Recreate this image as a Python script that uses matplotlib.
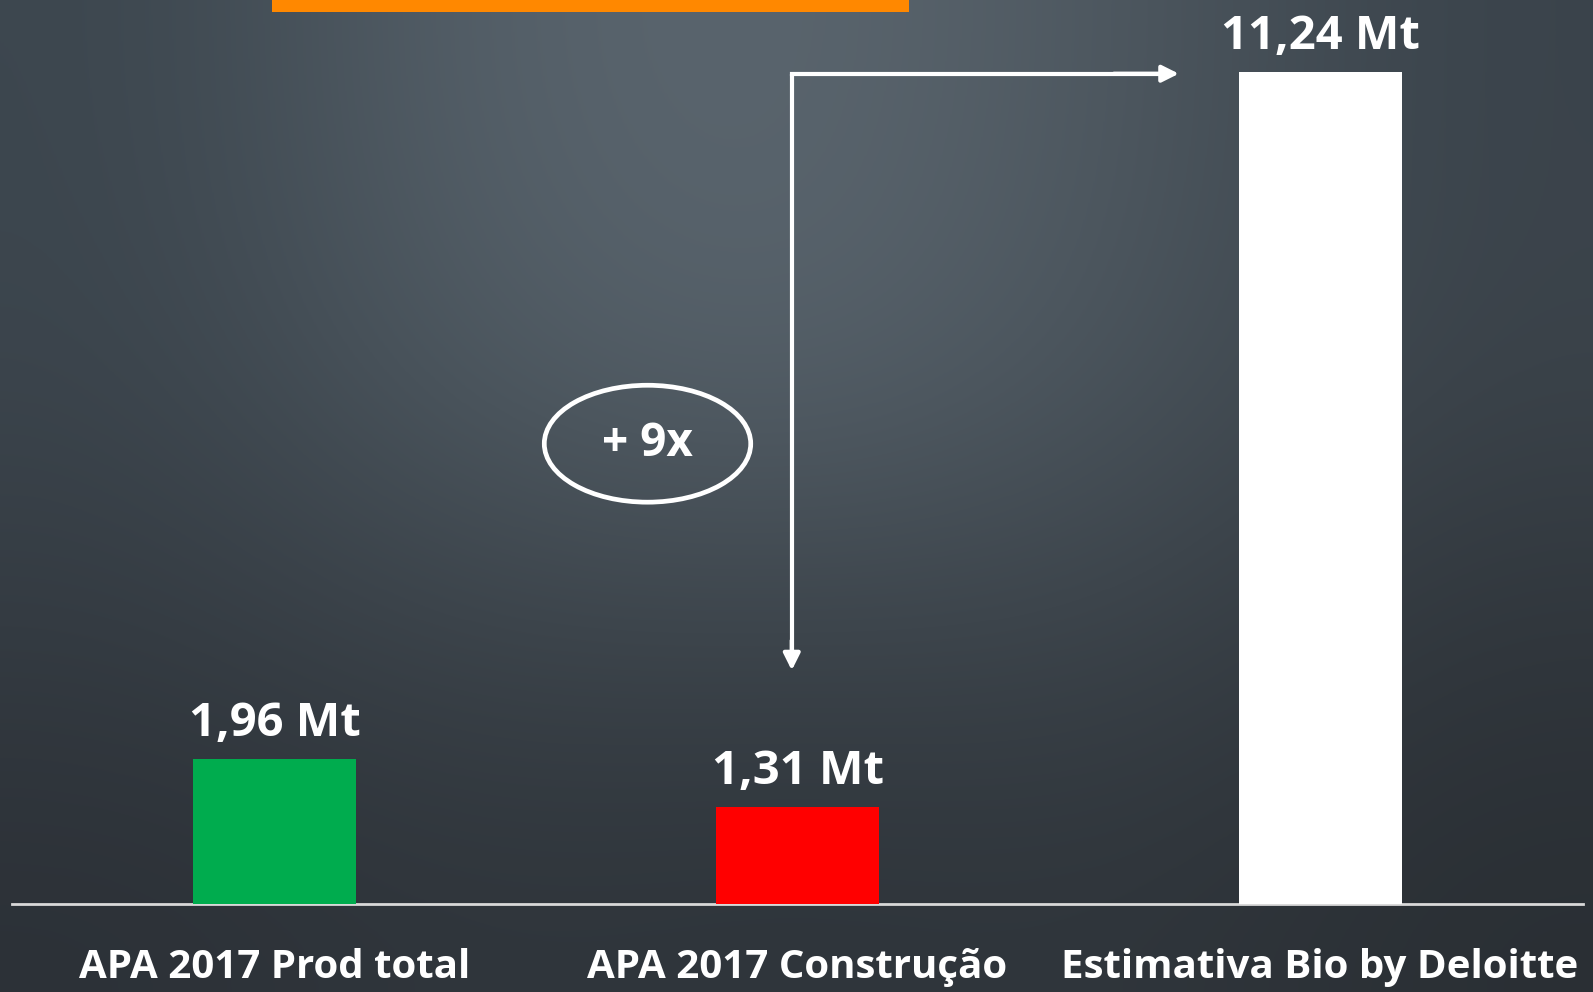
import numpy as np
import matplotlib.pyplot as plt
from matplotlib.colors import to_rgb
from matplotlib.patches import Ellipse, Rectangle

# Data
categories = ["APA 2017 Prod total", "APA 2017 Construção", "Estimativa Bio by Deloitte"]
values = [1.96, 1.31, 11.24]
value_labels = ["1,96 Mt", "1,31 Mt", "11,24 Mt"]
bar_colors = ["#00ac4e", "#ff0000", "#ffffff"]

plt.rcParams['font.family'] = ['Open Sans', 'DejaVu Sans']

fig = plt.figure(figsize=(15.93, 9.92), dpi=100)

# background: smooth dark slate gradient (stand-in for the paper texture)
grid = [
    ["#3c464e", "#56616a", "#5c6770", "#4e5860", "#3a434b"],
    ["#3b444c", "#4f5a62", "#58636c", "#4a545c", "#3b434a"],
    ["#343b42", "#3d454c", "#3c444b", "#3d454c", "#30363c"],
    ["#2c3137", "#30363c", "#2e343a", "#30363c", "#2a2f34"],
]
bg = np.array([[to_rgb(c) for c in row] for row in grid])
ax_bg = fig.add_axes([0, 0, 1, 1], zorder=0)
ax_bg.imshow(bg, aspect='auto', interpolation='bicubic', extent=[0, 1, 0, 1])
ax_bg.axis('off')

# orange strip at top
fig.patches.append(Rectangle((0.1707, 0.988), 0.40, 0.012, transform=fig.transFigure,
                             facecolor="#ff8800", edgecolor='none', zorder=1))

ax = fig.add_axes([12 / 1593, 88 / 992, 1571 / 1593, 904 / 992], zorder=2)
ax.patch.set_alpha(0)
x = np.arange(len(categories))
ax.bar(x, values, width=0.312, color=bar_colors, zorder=3)
ax.set_xlim(-0.503, 2.503)
ax.set_ylim(0, 904 / 74)

for xi, v, lab in zip(x, values, value_labels):
    ax.text(xi, v + 0.31, lab, ha='center', va='baseline', color='white',
            fontsize=34, fontweight='bold')

ax.set_xticks(x)
ax.set_xticklabels(categories, fontsize=29, fontweight='bold', color='white')
ax.tick_params(axis='x', length=0, pad=32)
ax.set_yticks([])
for s in ['top', 'left', 'right']:
    ax.spines[s].set_visible(False)
ax.spines['bottom'].set_color('#d9d9d9')
ax.spines['bottom'].set_linewidth(2)

# elbow arrow from red bar to white bar
ax.plot([0.989, 0.989], [3.35, 11.22], color='white', lw=3, solid_capstyle='butt', zorder=4)
ax.plot([0.989, 1.70], [11.22, 11.22], color='white', lw=3, solid_capstyle='projecting', zorder=4)
ax.annotate('', xy=(0.989, 3.12), xytext=(0.989, 3.6),
            arrowprops=dict(arrowstyle='-|>,head_length=1.0,head_width=0.5', color='white', lw=3))
ax.annotate('', xy=(1.735, 11.22), xytext=(1.6, 11.22),
            arrowprops=dict(arrowstyle='-|>,head_length=1.0,head_width=0.5', color='white', lw=3))

ax.add_patch(Ellipse((0.713, 6.22), 0.395, 1.58, facecolor='none', edgecolor='white', lw=3.4, zorder=4))
ax.text(0.713, 6.22, "+ 9x", ha='center', va='center', color='white', fontsize=33, fontweight='bold')

fig.savefig("out.png", dpi=100)
